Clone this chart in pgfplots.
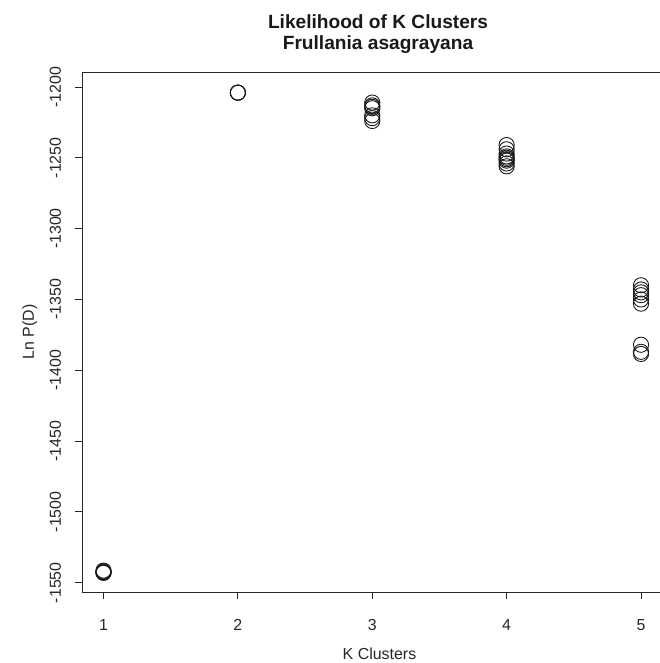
\documentclass[border=0pt]{standalone}
\usepackage{pgfplots}
\pgfplotsset{compat=1.18}
\usepackage{fontspec}
\setmainfont{Liberation Sans}
\begin{document}
\begin{tikzpicture}[x=1bp,y=1bp]
\begin{axis}[
  at={(0,0)}, anchor=south west,
  scale only axis, width=580.5bp, height=520bp,
  xmin=0.84, xmax=5.16, ymin=-1556.6, ymax=-1189.4,
  xtick={1,2,3,4,5}, xticklabels={1,2,3,4,5},
  ytick={-1550,-1500,-1450,-1400,-1350,-1300,-1250,-1200},
  yticklabels={-1550,-1500,-1450,-1400,-1350,-1300,-1250,-1200},
  xtick pos=bottom, ytick pos=left, tick align=outside,
  major tick length=7bp,
  tick style={black!85, line width=0.8bp},
  axis line style={black!85, line width=0.8bp},
  ticklabel style={font=\fontsize{16}{16}\selectfont, text=black!85, inner sep=0pt},
  xticklabel style={anchor=base, yshift=-31bp},
  yticklabel style={rotate=90, anchor=base, yshift=14bp},
  clip=false,
]
\addplot[only marks, mark=o, mark size=7.6bp, mark options={line width=0.9bp, draw=black!90}]
  coordinates {
  (1,-1541.5) (1,-1542) (1,-1542.5) (1,-1543) (1,-1543)
  (2,-1204) (2,-1204) (2,-1204)
  (3,-1211) (3,-1213) (3,-1214) (3,-1215) (3,-1220) (3,-1222) (3,-1224)
  (4,-1241) (4,-1244) (4,-1247) (4,-1249) (4,-1250) (4,-1251) (4,-1252) (4,-1254) (4,-1256)
  (5,-1340) (5,-1343) (5,-1345) (5,-1347) (5,-1350) (5,-1353)
  (5,-1382) (5,-1387) (5,-1388.5)
  };
\end{axis}
\node[font=\bfseries\fontsize{19.2}{19.2}\selectfont, anchor=base, text=black!90] at (296,563) {Likelihood of K Clusters};
\node[font=\bfseries\fontsize{19.2}{19.2}\selectfont, anchor=base, text=black!90] at (296,542) {Frullania asagrayana};
\node[font=\fontsize{16}{16}\selectfont, anchor=base, text=black!85] at (297.5,-67.5) {K Clusters};
\node[font=\fontsize{16}{16}\selectfont, anchor=base, rotate=90, text=black!85] at (-48,260) {Ln P(D)};
\pgfresetboundingbox
\useasboundingbox (-82,-71) rectangle (578,592);
\end{tikzpicture}
\end{document}
